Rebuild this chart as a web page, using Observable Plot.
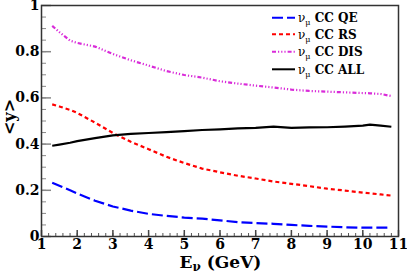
<!DOCTYPE html>
<html><head><meta charset="utf-8">
<script src="https://cdn.jsdelivr.net/npm/d3@7"></script>
<script src="https://cdn.jsdelivr.net/npm/@observablehq/plot@0.6"></script>
<style>body{margin:0;background:#fff}</style>
</head><body><div id="chart"></div>
<script>
// ---- data ----
const energy = [1.3,1.5,1.8,2,2.5,3,3.5,4,4.5,5,5.5,6,6.5,7,7.5,8,8.5,9,9.5,10,10.2,10.5,10.8];
const yQE  = [0.233,0.220,0.200,0.186,0.155,0.130,0.112,0.098,0.089,0.082,0.077,0.070,0.062,0.058,0.055,0.050,0.046,0.043,0.040,0.038,0.038,0.038,0.039];
const yRS  = [0.572,0.563,0.548,0.535,0.493,0.448,0.410,0.378,0.345,0.318,0.294,0.278,0.263,0.251,0.238,0.228,0.218,0.207,0.199,0.190,0.187,0.182,0.177];
const yDIS = [0.912,0.885,0.848,0.838,0.822,0.790,0.763,0.740,0.716,0.699,0.688,0.672,0.662,0.653,0.645,0.636,0.630,0.627,0.624,0.621,0.620,0.617,0.608];
const yALL = [0.393,0.398,0.406,0.413,0.426,0.438,0.444,0.448,0.452,0.456,0.461,0.464,0.468,0.470,0.476,0.470,0.472,0.473,0.476,0.480,0.484,0.480,0.475];
const seriesNames = ["CC QE","CC RS","CC DIS","CC ALL"];
const seriesValues = [yQE, yRS, yDIS, yALL];
const xTicks = [1,2,3,4,5,6,7,8,9,10,11];
const yTicks = [0,0.2,0.4,0.6,0.8,1];
const yTickLabels = ["0","0.2","0.4","0.6","0.8","1"];

// ---- styles ----
const colors = ["#0000ff","#ff0000","#d92bd9","#000000"];
const dashes = ["11,4","4,3","4,2,1.2,2,1.2,2,1.2,2","none"];

const rows = seriesNames.flatMap((s,i) => energy.map((e,j) => ({s, E:e, y:seriesValues[i][j]})));
const xMinor = d3.range(1, 11.0001, 0.2);
const yMinor = d3.range(0, 1.0001, 0.05);

const W = 407, H = 274, mL = 41, mR = 9, mT = 5, mB = 38;
const pw = W - mL - mR, ph = H - mT - mB;
const font = "'DejaVu Serif', serif";

const svg = Plot.plot({
  width: W, height: H,
  marginLeft: mL, marginRight: mR, marginTop: mT, marginBottom: mB,
  style: {fontFamily: font, fontWeight: "bold", fontSize: "14px", background: "#fff", color: "#000"},
  x: {domain: [1, 11], label: null},
  y: {domain: [0, 1], label: null},
  marks: [
    Plot.ruleX(xMinor, {x: d => d, insetTop: ph - 3, stroke: "#555", strokeWidth: 1}),
    Plot.ruleX(xTicks, {x: d => d, insetTop: ph - 6, stroke: "#444", strokeWidth: 1.5}),
    Plot.ruleY(yMinor, {y: d => d, insetRight: pw - 5, stroke: "#888", strokeWidth: 1}),
    Plot.ruleY(yTicks, {y: d => d, insetRight: pw - 10, stroke: "#888", strokeWidth: 1.5}),
    ...seriesNames.map((s,i) => Plot.line(rows.filter(r => r.s === s), {
      x: "E", y: "y", stroke: colors[i], strokeWidth: 2.2, strokeLinecap: "butt",
      strokeDasharray: dashes[i], curve: "linear"
    })),
    Plot.frame({stroke: "#333", strokeWidth: 1.5}),
    Plot.axisX({ticks: xTicks, label: null, tickSize: 0, tickPadding: 3, tickFormat: d => String(d),
      fontSize: 14, fontWeight: "bold"}),
    Plot.axisY({ticks: yTicks, label: null, tickSize: 0, tickPadding: 2, tickFormat: d => yTickLabels[yTicks.indexOf(d)],
      fontSize: 14, fontWeight: "bold"})
  ]
});

const g = d3.select(svg);
// axis labels
const xl = g.append("text").attr("x", mL + pw/2 + 1).attr("y", 268).attr("text-anchor", "middle")
  .attr("font-weight", "bold").attr("font-size", 17);
xl.append("tspan").text("E");
xl.append("tspan").attr("font-size", 12).attr("dy", 3).text("ν");
xl.append("tspan").attr("dy", -3).text(" (GeV)");

g.append("text").attr("transform", "translate(15,117) rotate(-90)").attr("text-anchor", "middle")
  .attr("font-weight", "bold").attr("font-size", 16).text("<y>");

// legend
const legY = [17.7, 34.3, 51.7, 69.3];
seriesNames.forEach((s,i) => {
  g.append("line").attr("x1", 272).attr("x2", 295).attr("y1", legY[i]).attr("y2", legY[i])
    .attr("stroke", colors[i]).attr("stroke-width", 2).attr("stroke-dasharray", dashes[i]);
  const t = g.append("text").attr("x", 298).attr("y", legY[i] + 4.5).attr("text-anchor", "start")
    .attr("font-weight", "bold").attr("font-size", 12);
  t.append("tspan").attr("font-weight", "normal").text("ν");
  t.append("tspan").attr("font-size", 8).attr("font-weight", "normal").attr("dy", 3).text("μ");
  t.append("tspan").attr("dy", -3).text(" " + s);
});

g.selectAll("text, tspan").style("font-family", font);

document.getElementById("chart").appendChild(svg);
</script>
</body></html>
